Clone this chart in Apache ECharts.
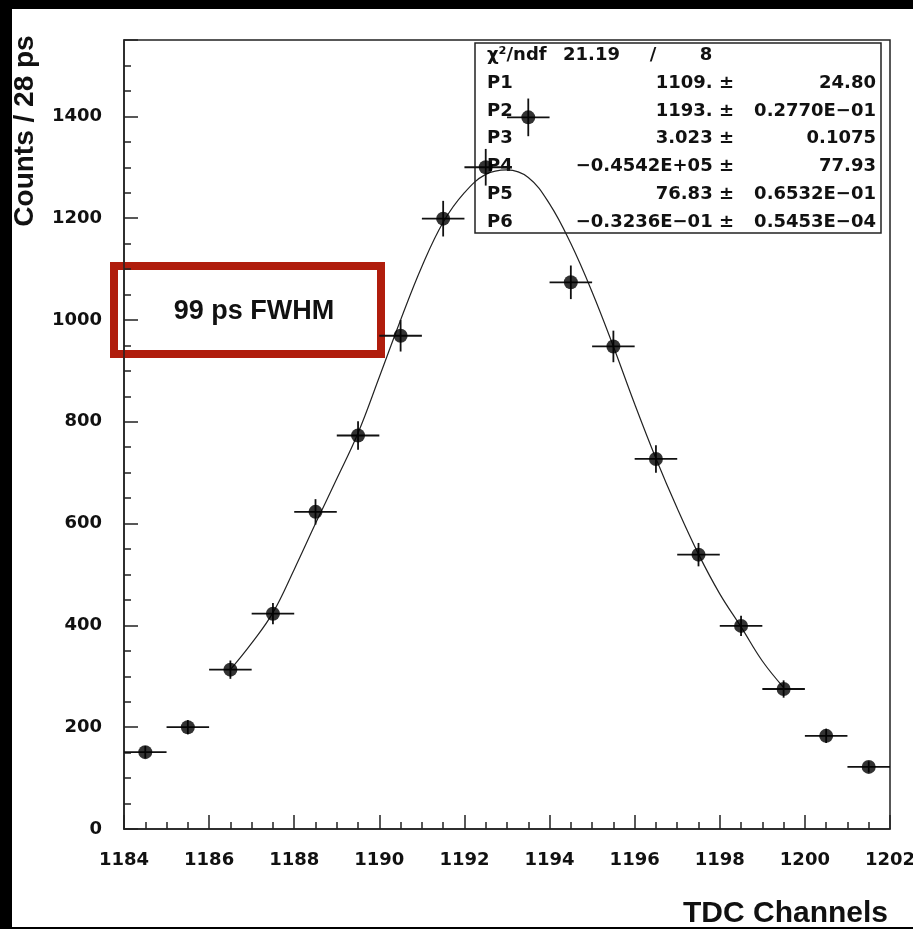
<!DOCTYPE html>
<html>
<head>
<meta charset="utf-8">
<script src="https://cdn.jsdelivr.net/npm/echarts@6/dist/echarts.min.js"></script>
<style>
  html, body { margin: 0; padding: 0; background: #ffffff; }
  #chart { width: 913px; height: 929px; }
</style>
</head>
<body>
<div id="chart"></div>
<script>
// ---- data ----
const binCenters = [1184.5, 1185.5, 1186.5, 1187.5, 1188.5, 1189.5, 1190.5, 1191.5, 1192.5,
                    1193.5, 1194.5, 1195.5, 1196.5, 1197.5, 1198.5, 1199.5, 1200.5, 1201.5];
const counts = [151, 200, 313, 423, 623, 773, 969, 1199, 1300,
                1398, 1074, 948, 727, 539, 399, 275, 183, 122];
const countErrors = [12, 14, 18, 21, 25, 28, 31, 35, 36,
                     37, 33, 31, 27, 23, 20, 17, 14, 11];
const binHalfWidth = 0.5;

const fitX = [1186.5, 1187.0, 1187.5, 1188.0, 1188.5, 1189.0, 1189.5, 1190.0, 1190.5,
              1191.0, 1191.5, 1192.0, 1192.5, 1193.0, 1193.5, 1194.0, 1194.5, 1195.0,
              1195.5, 1196.0, 1196.5, 1197.0, 1197.5, 1198.0, 1198.5, 1199.0, 1199.5];
const fitY = [313, 365, 425, 510, 600, 688, 778, 888, 1000,
              1105, 1192, 1250, 1286, 1295, 1280, 1228, 1150, 1055,
              948, 835, 728, 630, 540, 462, 397, 330, 278];

const statsLabels = ['P1', 'P2', 'P3', 'P4', 'P5', 'P6'];
const statsValues = ['1109. \u00b1', '1193. \u00b1', '3.023 \u00b1', '\u22120.4542E+05 \u00b1', '76.83 \u00b1', '\u22120.3236E\u221201 \u00b1'];
const statsErrors = ['24.80', '0.2770E\u221201', '0.1075', '77.93', '0.6532E\u221201', '0.5453E\u221204'];
const chiLabel = '\u03c7\u00b2/ndf';
const chiValue = '21.19';
const ndfValue = '8';

const xTitle = 'TDC Channels';
const yTitle = 'Counts / 28 ps';
const noteText = '99 ps FWHM';

// ---- chart ----
const chart = echarts.init(document.getElementById('chart'), null, { renderer: 'canvas' });

const statFont = { fontFamily: 'DejaVu Sans', fontWeight: 'bold', fontSize: 18, fill: '#111' };
const statsGraphics = [];
statsGraphics.push({ type: 'rect', shape: { x: 475, y: 43, width: 406, height: 190 },
  style: { fill: '#fff', stroke: '#222', lineWidth: 1.5 }, z: 0 });
statsGraphics.push({ type: 'text', x: 487, y: 55, style: Object.assign({ text: chiLabel, align: 'left', verticalAlign: 'middle' }, statFont) });
statsGraphics.push({ type: 'text', x: 563, y: 55, style: Object.assign({ text: chiValue, align: 'left', verticalAlign: 'middle' }, statFont) });
statsGraphics.push({ type: 'text', x: 653, y: 55, style: Object.assign({ text: '/', align: 'center', verticalAlign: 'middle' }, statFont) });
statsGraphics.push({ type: 'text', x: 706, y: 55, style: Object.assign({ text: ndfValue, align: 'center', verticalAlign: 'middle' }, statFont) });
const rowY = [83, 111, 138, 166, 194, 222];
statsLabels.forEach((lab, i) => {
  statsGraphics.push({ type: 'text', x: 487, y: rowY[i], style: Object.assign({ text: lab, align: 'left', verticalAlign: 'middle' }, statFont) });
  statsGraphics.push({ type: 'text', x: 734, y: rowY[i], style: Object.assign({ text: statsValues[i], align: 'right', verticalAlign: 'middle' }, statFont) });
  statsGraphics.push({ type: 'text', x: 876, y: rowY[i], style: Object.assign({ text: statsErrors[i], align: 'right', verticalAlign: 'middle' }, statFont) });
});

const option = {
  backgroundColor: '#ffffff',
  animation: false,
  grid: { left: 124, right: 23, top: 40, bottom: 100, show: true, borderColor: '#222', borderWidth: 1.5,
          backgroundColor: 'transparent', containLabel: false, outerBoundsMode: 'none' },
  xAxis: {
    type: 'value', min: 1184, max: 1202, interval: 2,
    axisLine: { show: true, lineStyle: { color: '#222', width: 1.5 } },
    axisTick: { show: true, inside: true, length: 14, lineStyle: { color: '#222', width: 1.5 } },
    minorTick: { show: true, splitNumber: 4, length: 7, lineStyle: { color: '#222', width: 1.5 } },
    splitLine: { show: false },
    axisLabel: { color: '#111', fontFamily: 'DejaVu Sans', fontWeight: 'bold', fontSize: 18, margin: 22,
      formatter: v => String(v), hideOverlap: false }
  },
  yAxis: [
    {
      type: 'value', min: 0, max: 1550, interval: 50,
      axisLine: { show: true, lineStyle: { color: '#222', width: 1.5 } },
      axisTick: { show: true, inside: true, length: 7, lineStyle: { color: '#222', width: 1.5 } },
      splitLine: { show: false },
      axisLabel: { color: '#111', fontFamily: 'DejaVu Sans', fontWeight: 'bold', fontSize: 18, margin: 22,
        formatter: v => (v % 200 === 0 ? String(v) : '') }
    },
    {
      type: 'value', min: 0, max: 1550, interval: 200, position: 'left',
      axisLine: { show: false },
      axisTick: { show: true, inside: true, length: 14, lineStyle: { color: '#222', width: 1.5 } },
      splitLine: { show: false },
      axisLabel: { show: false }
    }
  ],
  graphic: [
    { type: 'rect', shape: { x: 0, y: 0, width: 913, height: 9 }, style: { fill: '#000' } },
    { type: 'rect', shape: { x: 0, y: 0, width: 12, height: 929 }, style: { fill: '#000' } },
    { type: 'rect', shape: { x: 0, y: 927, width: 913, height: 2 }, style: { fill: '#000' } },
    { type: 'text', x: 25, y: 131, rotation: Math.PI / 2,
      style: { text: yTitle, fontFamily: 'Liberation Sans', fontWeight: 'bold', fontSize: 28, fill: '#111', align: 'center', verticalAlign: 'middle' } },
    { type: 'text', x: 888, y: 914,
      style: { text: xTitle, fontFamily: 'Liberation Sans', fontWeight: 'bold', fontSize: 30, fill: '#111', align: 'right', verticalAlign: 'middle' } },
    { type: 'rect', shape: { x: 114, y: 266, width: 267, height: 88 }, style: { fill: 'none', stroke: '#b01d0c', lineWidth: 8 } },
    { type: 'text', x: 254, y: 312,
      style: { text: noteText, fontFamily: 'Liberation Sans', fontWeight: 'bold', fontSize: 27, fill: '#111', align: 'center', verticalAlign: 'middle' } }
  ].concat(statsGraphics),
  series: [
    {
      type: 'line', name: 'fit', data: fitX.map((x, i) => [x, fitY[i]]),
      smooth: 0.4, symbol: 'none', z: 3,
      lineStyle: { color: '#222', width: 1.2 }
    },
    {
      type: 'custom', name: 'errors', z: 4,
      data: binCenters.map((c, i) => [c, counts[i], binHalfWidth, countErrors[i]]),
      encode: { x: 0, y: 1 },
      renderItem: function (params, api) {
        const x = api.value(0), y = api.value(1), ex = api.value(2), ey = api.value(3);
        const l = api.coord([x - ex, y]), r = api.coord([x + ex, y]);
        const t = api.coord([x, y + ey]), b = api.coord([x, y - ey]);
        return { type: 'group', children: [
          { type: 'line', shape: { x1: l[0], y1: l[1], x2: r[0], y2: r[1] }, style: { stroke: '#111', lineWidth: 1.8 } },
          { type: 'line', shape: { x1: t[0], y1: t[1], x2: b[0], y2: b[1] }, style: { stroke: '#111', lineWidth: 1.8 } }
        ] };
      }
    },
    {
      type: 'scatter', name: 'counts', z: 5,
      data: binCenters.map((c, i) => [c, counts[i]]),
      symbol: 'circle', symbolSize: 14,
      itemStyle: { color: '#000' }
    }
  ]
};
chart.setOption(option);
</script>
</body>
</html>
